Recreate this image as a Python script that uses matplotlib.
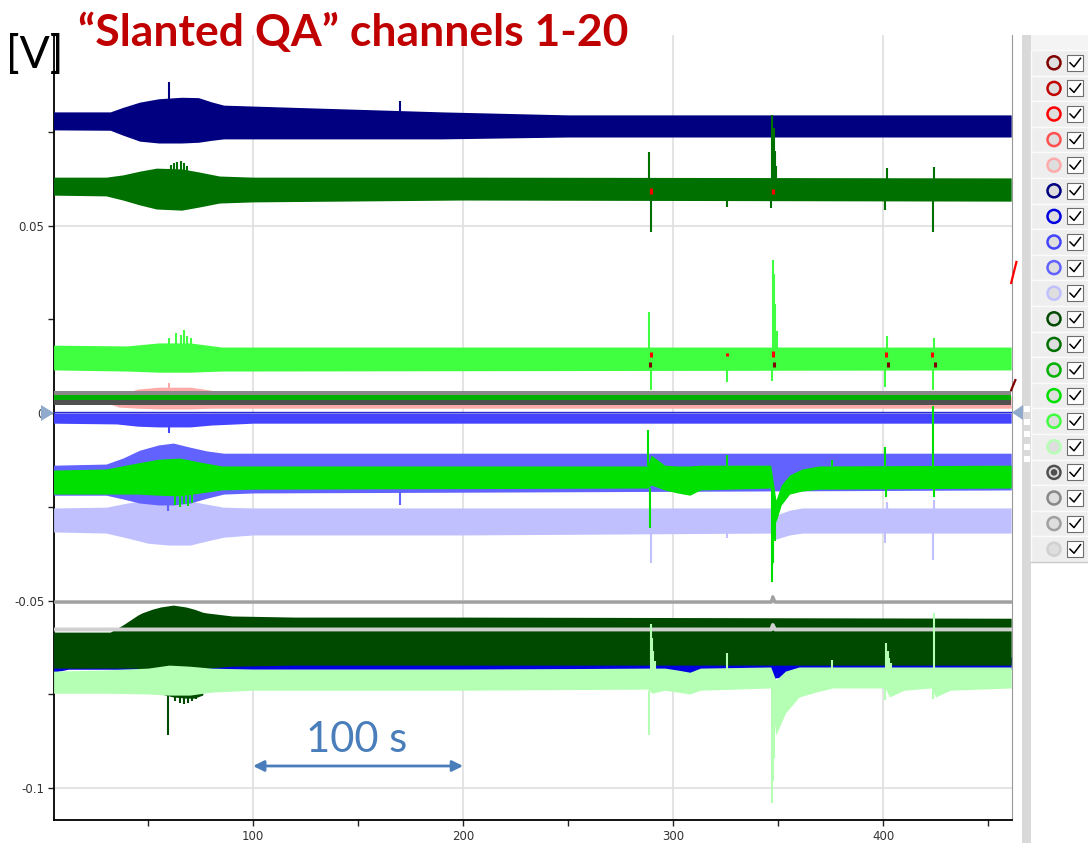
import matplotlib.pyplot as plt
from matplotlib.patches import Circle, Polygon, Rectangle

# trace colours, channels 1-20 (legend order)
channel_colors = ['#800000', '#C00000', '#FF0000', '#FF5050', '#FFAAAA',
                  '#000080', '#0000E0', '#4444FF', '#6262FF', '#C0C0FF',
                  '#004A00', '#007000', '#00B000', '#00E000', '#40FF40',
                  '#B4FFB4', '#505050', '#888888', '#A0A0A0', '#D0D0D0']

xtick_vals = [100, 200, 300, 400]
xtick_labels = ['100', '200', '300', '400']
ytick_vals = [0.05, 0, -0.05, -0.1]
ytick_labels = ['0.05', '0', '-0.05', '-0.1']

# envelopes of each channel: time [s], upper / lower signal [V]
ch6_t = [5, 32, 38, 46, 55, 66, 74, 80, 86, 120, 190, 250, 461]
ch6_hi = [0.0803, 0.0803, 0.0815, 0.0829, 0.0838, 0.0842, 0.0841, 0.0830, 0.0821, 0.0815, 0.0803, 0.0795, 0.0795]
ch6_lo = [0.0755, 0.0754, 0.0741, 0.0725, 0.0720, 0.0720, 0.0722, 0.0727, 0.0731, 0.0731, 0.0731, 0.0736, 0.0736]

ch12_t = [5, 30, 38, 46, 54, 66, 74, 84, 100, 200, 461]
ch12_hi = [0.0629, 0.0629, 0.0635, 0.0645, 0.0653, 0.0651, 0.0643, 0.0632, 0.0629, 0.0629, 0.0627]
ch12_lo = [0.0581, 0.0579, 0.0568, 0.0555, 0.0544, 0.0541, 0.0549, 0.0560, 0.0563, 0.0568, 0.0565]

ch15_t = [5, 40, 55, 70, 85, 461]
ch15_hi = [0.0181, 0.0179, 0.0187, 0.0187, 0.0176, 0.0176]
ch15_lo = [0.0115, 0.0112, 0.0109, 0.0109, 0.0112, 0.0115]

ch5_t = [5, 32, 36, 45, 55, 70, 80, 90, 461]
ch5_hi = [0.0035, 0.0035, 0.0048, 0.0064, 0.0069, 0.0069, 0.0061, 0.0045, 0.0045]
ch5_lo = [0.0024, 0.0024, 0.0016, 0.0013, 0.0011, 0.0011, 0.0013, 0.0013, 0.0013]

flat_t = [5, 461]
ch18_hi = [0.0059, 0.0059]
ch18_lo = [0.0048, 0.0048]
ch13_hi = [0.0048, 0.0048]
ch13_lo = [0.0035, 0.0035]
ch17_hi = [0.0035, 0.0035]
ch17_lo = [0.0021, 0.0021]

ch8_t = [5, 35, 45, 55, 70, 80, 100, 461]
ch8_hi = [0.0, 0.0, 0.0, 0.0, 0.0, 0.0, 0.0, 0.0]
ch8_lo = [-0.0027, -0.0029, -0.0035, -0.0037, -0.0037, -0.0032, -0.0027, -0.0027]
ch8_edge = [0.0003, 0.0003]

ch9_t = [5, 30, 38, 46, 55, 62, 70, 78, 86, 100, 200, 461]
ch9_hi = [-0.0139, -0.0136, -0.0120, -0.0099, -0.0085, -0.0080, -0.0091, -0.0101, -0.0107, -0.0107, -0.0107, -0.0107]
ch9_lo = [-0.0219, -0.0219, -0.0229, -0.0240, -0.0245, -0.0245, -0.0240, -0.0227, -0.0216, -0.0213, -0.0211, -0.0205]

ch14_t = [5, 30, 45, 55, 65, 75, 85, 100, 288, 289.5, 296, 302, 308, 313,
          346.5, 349, 351.5, 355.5, 361.5, 369.5, 461]
ch14_hi = [-0.0152, -0.0149, -0.0133, -0.0123, -0.0120, -0.0131, -0.0141, -0.0141, -0.0141, -0.0112,
           -0.0139, -0.0141, -0.0141, -0.0139, -0.0139, -0.0232, -0.0192, -0.0165, -0.0149, -0.0141, -0.0139]
ch14_lo = [-0.0216, -0.0216, -0.0216, -0.0219, -0.0221, -0.0213, -0.0205, -0.0203, -0.0200, -0.0192,
           -0.0205, -0.0213, -0.0219, -0.0205, -0.0200, -0.0291, -0.0245, -0.0216, -0.0208, -0.0203, -0.0200]

ch10_t = [5, 30, 40, 50, 60, 70, 78, 86, 100, 200, 346.5, 349, 355.5, 361.5, 461]
ch10_hi = [-0.0253, -0.0251, -0.0240, -0.0232, -0.0232, -0.0235, -0.0243, -0.0251, -0.0253, -0.0253,
           -0.0253, -0.0272, -0.0259, -0.0253, -0.0253]
ch10_lo = [-0.0317, -0.0320, -0.0333, -0.0347, -0.0352, -0.0352, -0.0341, -0.0331, -0.0325, -0.0325,
           -0.0320, -0.0336, -0.0325, -0.0320, -0.0320]

bump_t = [5, 346.8, 347.5, 348.5, 461]
ch19_v = [-0.0504, -0.0504, -0.0490, -0.0504, -0.0504]
ch20_v = [-0.0577, -0.0577, -0.0565, -0.0577, -0.0577]

ch11_t = [5, 32, 38, 45, 47, 52, 56, 62, 68, 72, 76, 78, 90, 120, 200, 461]
ch11_hi = [-0.0584, -0.0584, -0.0565, -0.0539, -0.0533, -0.0523, -0.0517, -0.0512, -0.0517, -0.0523,
           -0.0531, -0.0533, -0.0541, -0.0544, -0.0544, -0.0547]
ch11_lo = [-0.0680, -0.0680, -0.0680, -0.0680, -0.0741, -0.0747, -0.0749, -0.0757, -0.0760, -0.0760,
           -0.0752, -0.0680, -0.0675, -0.0672, -0.0672, -0.0672]

ch7_t = [5, 12, 288, 289.5, 300, 305, 311, 316, 346.5, 348, 351.5, 357.5, 365.5, 423, 425, 432, 440, 461]
ch7_hi = [-0.0650] * 18
ch7_lo = [-0.0691, -0.0683, -0.0683, -0.0704, -0.0691, -0.0696, -0.0691, -0.0683, -0.0683, -0.0707,
          -0.0704, -0.0693, -0.0685, -0.0683, -0.0699, -0.0688, -0.0683, -0.0683]

ch16_t = [5, 30, 50, 60, 70, 80, 100, 200, 288, 290, 296, 302, 308, 313, 346.5, 348.9, 353.5, 360, 368,
          376, 401, 403, 410, 423, 425, 432, 461]
ch16_hi = [-0.0688, -0.0685, -0.0680, -0.0672, -0.0675, -0.0680, -0.0683, -0.0683, -0.0680, -0.0680,
           -0.0680, -0.0685, -0.0691, -0.0680, -0.0677, -0.0712, -0.0688, -0.0677, -0.0677, -0.0677,
           -0.0677, -0.0677, -0.0677, -0.0677, -0.0677, -0.0677, -0.0677]
ch16_lo = [-0.0747, -0.0747, -0.0749, -0.0752, -0.0752, -0.0744, -0.0739, -0.0739, -0.0736, -0.0747,
           -0.0739, -0.0744, -0.0749, -0.0739, -0.0733, -0.0859, -0.0800, -0.0757, -0.0744, -0.0733,
           -0.0733, -0.0757, -0.0739, -0.0733, -0.0757, -0.0739, -0.0733]

# short excursions: time [s], low / high end [V]
ch6_spk_t = [60, 170]
ch6_spk_lo = [0.0830, 0.0800]
ch6_spk_hi = [0.0883, 0.0832]

ch12_spk_t = [61, 62.5, 64, 65.5, 67, 68.5, 288.5, 289.4, 325.6, 346.8, 347.3, 347.9, 348.5, 349.2,
              401.0, 401.8, 423.6, 424.3]
ch12_spk_lo = [0.0640, 0.0640, 0.0640, 0.0640, 0.0640, 0.0640, 0.0600, 0.0483, 0.0549, 0.0547,
               0.0600, 0.0600, 0.0600, 0.0580, 0.0541, 0.0610, 0.0483, 0.0610]
ch12_spk_hi = [0.0662, 0.0667, 0.0669, 0.0672, 0.0667, 0.0660, 0.0696, 0.0580, 0.0580, 0.0600,
               0.0795, 0.0760, 0.0700, 0.0660, 0.0580, 0.0653, 0.0580, 0.0656]

ch15_spk_t = [60, 63.5, 65.5, 67, 68.5, 70.5, 288.5, 289.3, 325.6, 346.9, 347.4, 348.0, 348.6, 349.4,
              400.9, 401.7, 423.6, 424.4]
ch15_spk_lo = [0.0180, 0.0180, 0.0180, 0.0180, 0.0180, 0.0180, 0.0150, 0.0061, 0.0083, 0.0085,
               0.0150, 0.0150, 0.0150, 0.0150, 0.0069, 0.0150, 0.0061, 0.0150]
ch15_spk_hi = [0.0200, 0.0213, 0.0208, 0.0221, 0.0205, 0.0200, 0.0270, 0.0120, 0.0120, 0.0120,
               0.0408, 0.0370, 0.0290, 0.0220, 0.0120, 0.0205, 0.0120, 0.0200]

ch3_spk_t = [289.4, 325.8, 347.8, 401.3, 423.4, 289.5, 347.8]
ch3_spk_lo = [0.0149, 0.0152, 0.0149, 0.0149, 0.0149, 0.0585, 0.0583]
ch3_spk_hi = [0.0163, 0.0160, 0.0165, 0.0163, 0.0163, 0.0600, 0.0598]
ch1_spk_t = [288.9, 348.1, 402.4, 424.6]
ch1_spk_lo = [0.0123, 0.0123, 0.0123, 0.0123]
ch1_spk_hi = [0.0136, 0.0136, 0.0136, 0.0136]
ch3_edge_t = [461, 463.5]
ch3_edge_v = [0.0347, 0.0403]
ch1_edge_t = [461, 463]
ch1_edge_v = [0.0061, 0.0088]

ch5_spk_t = [60]
ch5_spk_lo = [0.0060]
ch5_spk_hi = [0.0080]
ch8_spk_t = [60]
ch8_spk_lo = [-0.0053]
ch8_spk_hi = [-0.0030]

ch9_spk_t = [59.5, 170, 325.6, 347.3]
ch9_spk_lo = [-0.0260, -0.0245, -0.0140, -0.0140]
ch9_spk_hi = [-0.0200, -0.0200, -0.0112, -0.0112]

ch14_spk_t = [63, 65, 67, 69, 71, 288.3, 289.1, 325.6, 347.3, 347.8, 348.4, 375.5, 400.8, 401.6, 423.7, 424.3]
ch14_spk_lo = [-0.0245, -0.0250, -0.0243, -0.0248, -0.0240, -0.0141, -0.0306, -0.0200, -0.0450, -0.0400,
               -0.0340, -0.0141, -0.0141, -0.0224, -0.0141, -0.0224]
ch14_spk_hi = [-0.0215, -0.0215, -0.0215, -0.0215, -0.0215, -0.0045, -0.0200, -0.0112, -0.0200, -0.0220,
               -0.0230, -0.0125, -0.0091, -0.0190, 0.0020, -0.0190]

ch10_spk_t = [289.3, 325.8, 401.1, 401.8, 423.7, 424.4]
ch10_spk_lo = [-0.0400, -0.0333, -0.0347, -0.0270, -0.0392, -0.0270]
ch10_spk_hi = [-0.0300, -0.0300, -0.0300, -0.0237, -0.0300, -0.0232]

ch11_spk_t = [59.5, 63, 65, 67, 69, 71, 73]
ch11_spk_lo = [-0.0859, -0.0768, -0.0773, -0.0776, -0.0773, -0.0768, -0.0763]
ch11_spk_hi = [-0.0740, -0.0750, -0.0750, -0.0750, -0.0750, -0.0750, -0.0750]

ch16_spk_t = [288.6, 289.3, 289.9, 290.6, 291.5, 325.6, 347.3, 347.8, 348.3, 375.5,
              401.0, 401.6, 402.2, 402.9, 403.7, 423.7, 424.3]
ch16_spk_lo = [-0.0859, -0.0700, -0.0700, -0.0700, -0.0700, -0.0700, -0.1040, -0.0980, -0.0920, -0.0700,
               -0.0765, -0.0700, -0.0700, -0.0700, -0.0700, -0.0763, -0.0700]
ch16_spk_hi = [-0.0740, -0.0563, -0.0600, -0.0635, -0.0660, -0.0640, -0.0720, -0.0720, -0.0720, -0.0659,
               -0.0730, -0.0613, -0.0635, -0.0652, -0.0667, -0.0730, -0.0533]

W, H = 1088, 843
fig = plt.figure(figsize=(W / 100, H / 100), dpi=100)
ax = fig.add_axes([54 / W, 23 / H, 958 / W, 785 / H])


def band(t, lo, hi, ch, z):
    ax.fill_between(t, lo, hi, color=channel_colors[ch - 1], lw=0, zorder=z)


def spikes(t, lo, hi, ch, z, lw=1.5):
    ax.vlines(t, lo, hi, colors=channel_colors[ch - 1], lw=lw, zorder=z)


# near-zero group
band(ch5_t, ch5_lo, ch5_hi, 5, 2)
spikes(ch5_spk_t, ch5_spk_lo, ch5_spk_hi, 5, 2)
band(flat_t, ch17_lo, ch17_hi, 17, 3)
band(flat_t, ch13_lo, ch13_hi, 13, 3)
band(flat_t, ch18_lo, ch18_hi, 18, 3)
band(ch8_t, ch8_lo, ch8_hi, 8, 4)
spikes(ch8_spk_t, ch8_spk_lo, ch8_spk_hi, 8, 4)
ax.plot(flat_t, ch8_edge, color='#2A2AD0', lw=1, zorder=4)

# -0.02 V group
band(ch10_t, ch10_lo, ch10_hi, 10, 5)
spikes(ch10_spk_t, ch10_spk_lo, ch10_spk_hi, 10, 5)
band(ch9_t, ch9_lo, ch9_hi, 9, 6)
spikes(ch9_spk_t, ch9_spk_lo, ch9_spk_hi, 9, 6)
band(ch14_t, ch14_lo, ch14_hi, 14, 7)
spikes(ch14_spk_t, ch14_spk_lo, ch14_spk_hi, 14, 7)

# -0.05 .. -0.08 V group
ax.plot(bump_t, ch19_v, color=channel_colors[18], lw=2.4, zorder=8)
band(ch7_t, ch7_lo, ch7_hi, 7, 9)
band(ch11_t, ch11_lo, ch11_hi, 11, 10)
spikes(ch11_spk_t, ch11_spk_lo, ch11_spk_hi, 11, 10)
ax.plot(bump_t, ch20_v, color=channel_colors[19], lw=2.8, zorder=11)
band(ch16_t, ch16_lo, ch16_hi, 16, 12)
spikes(ch16_spk_t, ch16_spk_lo, ch16_spk_hi, 16, 12)

# upper channels
band(ch6_t, ch6_lo, ch6_hi, 6, 13)
spikes(ch6_spk_t, ch6_spk_lo, ch6_spk_hi, 6, 13)
band(ch12_t, ch12_lo, ch12_hi, 12, 14)
spikes(ch12_spk_t, ch12_spk_lo, ch12_spk_hi, 12, 14)
band(ch15_t, ch15_lo, ch15_hi, 15, 15)
spikes(ch15_spk_t, ch15_spk_lo, ch15_spk_hi, 15, 15)

# red channels only show up at the transients
spikes(ch3_spk_t, ch3_spk_lo, ch3_spk_hi, 3, 16, lw=2.2)
spikes(ch1_spk_t, ch1_spk_lo, ch1_spk_hi, 1, 16, lw=2.2)
ax.plot(ch3_edge_t, ch3_edge_v, color=channel_colors[2], lw=1.6, clip_on=False, zorder=16)
ax.plot(ch1_edge_t, ch1_edge_v, color=channel_colors[0], lw=1.6, clip_on=False, zorder=16)

# axes styling
ax.set_xlim(5.2, 461.4)
ax.set_ylim(-0.1085, 0.1008)
ax.set_xticks(xtick_vals)
ax.set_xticklabels(xtick_labels)
ax.set_xticks([50, 150, 250, 350, 450], minor=True)
ax.set_yticks(ytick_vals)
ax.set_yticklabels(ytick_labels)
ax.set_yticks([-0.075, -0.025, 0.025, 0.075], minor=True)
ax.grid(True, which='major', color='#DDDDDD', lw=1.1, zorder=0)
ax.set_axisbelow(True)
ax.tick_params(which='both', direction='out', length=4, width=1, color='#222222',
               labelsize=8.5, labelcolor='#333333', pad=3)
ax.spines['top'].set_visible(False)
ax.spines['right'].set_color('#999999')
ax.spines['left'].set_linewidth(1.3)
ax.spines['bottom'].set_linewidth(1.3)

# scale bar
ax.annotate('', xy=(200, -0.0941), xytext=(100, -0.0941),
            arrowprops=dict(arrowstyle='<|-|>', color='#4A7EBB', lw=2, mutation_scale=16,
                            shrinkA=0, shrinkB=0), zorder=20)

# overlay in pixel coordinates: titles, markers and channel panel
ov = fig.add_axes([0, 0, 1, 1])
ov.set_xlim(0, W)
ov.set_ylim(H, 0)
ov.axis('off')

ov.text(78, 46, '\u201cSlanted QA\u201d channels 1-20', fontsize=32, fontweight='bold',
        color='#C00000', family='Lato', va='baseline')
ov.text(6, 68, '[V]', fontsize=32, color='black', family='Lato', va='baseline')
ov.text(357, 752, '100 s', fontsize=30, color='#4A7EBB', family='Lato', ha='center', va='baseline')

ov.add_patch(Polygon([(41, 405), (41, 421), (54, 413)], closed=True, color='#8FAACB', lw=0))
ov.add_patch(Rectangle((1022, 35), 9, H - 35, color='#D9D9D9', lw=0))
ov.add_patch(Polygon([(1023, 405), (1023, 420), (1012, 412.5)], closed=True, color='#8FAACB', lw=0))
for yc in [409, 422, 434, 447, 459]:
    ov.add_patch(Rectangle((1024, yc - 3), 6, 6, color='white', lw=0))

ov.add_patch(Rectangle((1031, 35), 57, 15, facecolor='#F4F4F4', edgecolor='none'))
row_h = 25.6
for i, col in enumerate(channel_colors):
    y0 = 50 + i * row_h
    yc = y0 + row_h / 2
    ov.add_patch(Rectangle((1031, y0), 57, row_h, facecolor='#EEEEEE', edgecolor='#FBFBFB', lw=1))
    ov.add_patch(Circle((1054, yc), 6.5, facecolor='#DEDEDE', edgecolor=col, lw=1.8))
    if i == 16:
        ov.add_patch(Circle((1054, yc), 3.3, color=col, lw=0))
    ov.add_patch(Rectangle((1067, yc - 8), 16, 16, facecolor='white', edgecolor='#6E6E6E', lw=0.8))
    ov.plot([1070, 1074, 1080.5], [yc, yc + 4, yc - 4.5], color='black', lw=1.1)
ov.plot([1031, 1088], [50 + 20 * row_h, 50 + 20 * row_h], color='#C8C8C8', lw=1)

fig.savefig('out.png', dpi=100)
